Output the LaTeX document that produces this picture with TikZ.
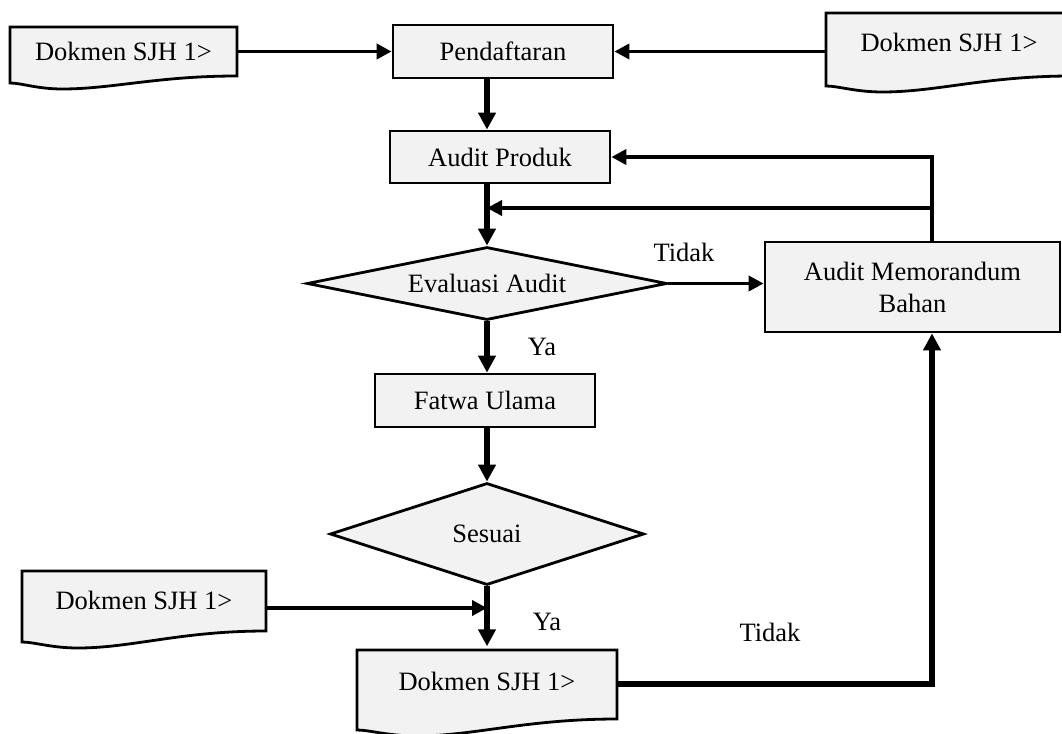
\documentclass[tikz,border=0pt]{standalone}
\usepackage{fontspec}
\setmainfont{Liberation Serif}
\usetikzlibrary{arrows.meta,shapes.geometric,calc}
\definecolor{boxgray}{HTML}{F2F2F2}
\newcommand{\dokpath}[5]{%
  \filldraw[docline] (#1,#2) -- (#3,#2) -- (#3,#4)
    .. controls ({#3-0.35*(#3-#1)},#4) and ({#1+0.45*(#3-#1)},{#5+6}) .. ({#1+0.23*(#3-#1)},{#5+6})
    .. controls ({#1+0.12*(#3-#1)},{#5+6}) and ({#1+0.05*(#3-#1)},#5) .. (#1,#5) -- cycle;}
\begin{document}
\begin{tikzpicture}[x=1pt,y=-1pt,
  every node/.style={font=\fontsize{26.5}{32}\selectfont},
  box/.style={draw, line width=2.8pt, fill=boxgray, inner sep=0pt},
  dia/.style={diamond, draw, line width=2.8pt, fill=boxgray, inner sep=0pt},
  docnode/.style={inner sep=0pt},
  docline/.style={draw=black, fill=boxgray, line width=2.8pt},
  thinarrow/.style={line width=3.8pt, -{Triangle[length=15pt,width=15pt]}},
  thickarrow/.style={line width=5.5pt, -{Triangle[length=17pt,width=17pt]}},
  lbl/.style={inner sep=0pt}]
\useasboundingbox (0,0) rectangle (1062,733);
\coordinate (axis) at (487,0);
\coordinate (fb) at (932,0);

% document shapes
\dokpath{10}{27}{237}{76}{83}
\dokpath{826}{13}{1072}{76}{86}
\dokpath{22}{571}{266}{631}{642}
\dokpath{357}{650}{617}{719}{730}

\node[docnode, minimum width=227pt, minimum height=49pt] (d1) at (123.5,51.5) {Dokmen SJH 1>};
\node[docnode, minimum width=246pt, minimum height=58pt] (d2) at (949,42) {Dokmen SJH 1>};
\node[docnode, minimum width=244pt, minimum height=60pt] (d3) at (144,600) {Dokmen SJH 1>};
\node[docnode, minimum width=260pt, minimum height=69pt] (d4) at (487,681) {Dokmen SJH 1>};

% boxes
\node[box, minimum width=220pt, minimum height=53pt] (pd) at (503,51.5) {Pendaftaran};
\node[box, minimum width=220pt, minimum height=52pt] (ap) at (500,157) {Audit Produk};
\node[box, minimum width=220pt, minimum height=53pt] (fu) at (485,400.5) {Fatwa Ulama};
\node[box, minimum width=295pt, minimum height=90pt, align=center] (mem) at (912.5,287) {Audit Memorandum\\Bahan};

% diamonds
\node[dia, minimum width=360pt, minimum height=73pt, shape aspect=4.9] (ev) at (487,283.5) {\raisebox{-4pt}{Evaluasi Audit}};
\node[dia, minimum width=314pt, minimum height=102pt, shape aspect=3.1] (se) at (487,534) {Sesuai};

% labels
\node[lbl] (t1) at (684,252) {Tidak};
\node[lbl] (y1) at (542,347) {Ya};
\node[lbl] (y2) at (547,622) {Ya};
\node[lbl] (t2) at (770,632) {Tidak};

% connectors
\draw[thinarrow] (d1.east |- pd.west) -- (pd.west);
\draw[thinarrow] (d2.west |- pd.east) -- (pd.east);
\draw[thickarrow] (pd.south -| axis) -- (ap.north -| axis);
\draw[thickarrow] (ap.south -| axis) -- (ev.north);
\draw[thinarrow] (ev.east) -- (mem.west |- ev.east);
\draw[thickarrow] (ev.south) -- (fu.north -| axis);
\draw[thickarrow] (fu.south -| axis) -- (se.north);
\draw[thickarrow] (se.south) -- (d4.north);
\coordinate (j2) at (487,608);
\draw[thinarrow] (d3.east |- j2) -- (j2);
\draw[thinarrow] (mem.north -| fb) |- (ap.east);
\coordinate (fb2) at (932,208);
\draw[thinarrow] (fb2) -- (fb2 -| axis);
\coordinate (j3) at (487,684);
\draw[thickarrow] (d4.east |- j3) -| (mem.south -| fb);
\end{tikzpicture}
\end{document}
